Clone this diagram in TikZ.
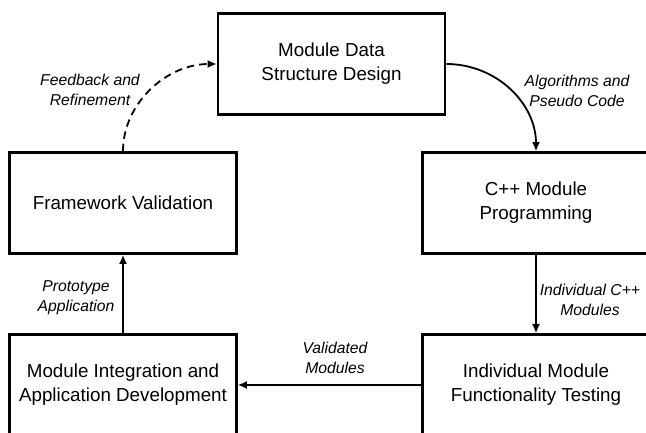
\documentclass[tikz,border=0pt]{standalone}
\usepackage{fontspec}
\setmainfont{Liberation Sans}
\usetikzlibrary{arrows.meta}
\begin{document}
\begin{tikzpicture}[x=1pt,y=1pt,
  stagebox/.style={draw, line width=2.6pt, minimum width=227pt, minimum height=101pt,
    align=center, inner sep=0pt, font=\fontsize{18.8}{24}\selectfont},
  flowlabel/.style={align=center, inner sep=0pt, font=\fontsize{15.7}{20}\selectfont\itshape},
  flow/.style={line width=1.8pt, -{Latex[length=9pt,width=8pt]}},
  feedback/.style={flow, dash pattern=on 7.5pt off 5pt}]
\useasboundingbox (0,0) rectangle (646,432);
\clip (0,0) rectangle (646,432);
\node[stagebox] (design) at (331.5,368) {Module Data\\Structure Design};
\node[stagebox] (frame) at (123,229) {Framework Validation};
\node[stagebox] (cpp) at (536,229) {C++ Module\\Programming};
\node[stagebox] (integ) at (123,47) {Module Integration and\\Application Development};
\node[stagebox] (test) at (536,47) {Individual Module\\Functionality Testing};
\draw[flow] (design.east) .. controls +(50,0) and +(0,48) .. (cpp.north);
\draw[feedback] (frame.north) .. controls +(0,48) and +(-50,0) .. (design.west);
\draw[flow] (cpp.south) -- (test.north);
\draw[flow] (test.west) -- (integ.east);
\draw[flow] (integ.north) -- (frame.south);
\node[flowlabel] (lfeed) at (90,342.5) {Feedback and\\Refinement};
\node[flowlabel] (lalgo) at (577,341) {Algorithms and\\Pseudo Code};
\node[flowlabel] (lproto) at (76,134) {Prototype\\Application};
\node[flowlabel] (lindiv) at (590,132.5) {Individual C++\\Modules};
\node[flowlabel] (lvalid) at (335,74.5) {Validated\\Modules};
\end{tikzpicture}
\end{document}
